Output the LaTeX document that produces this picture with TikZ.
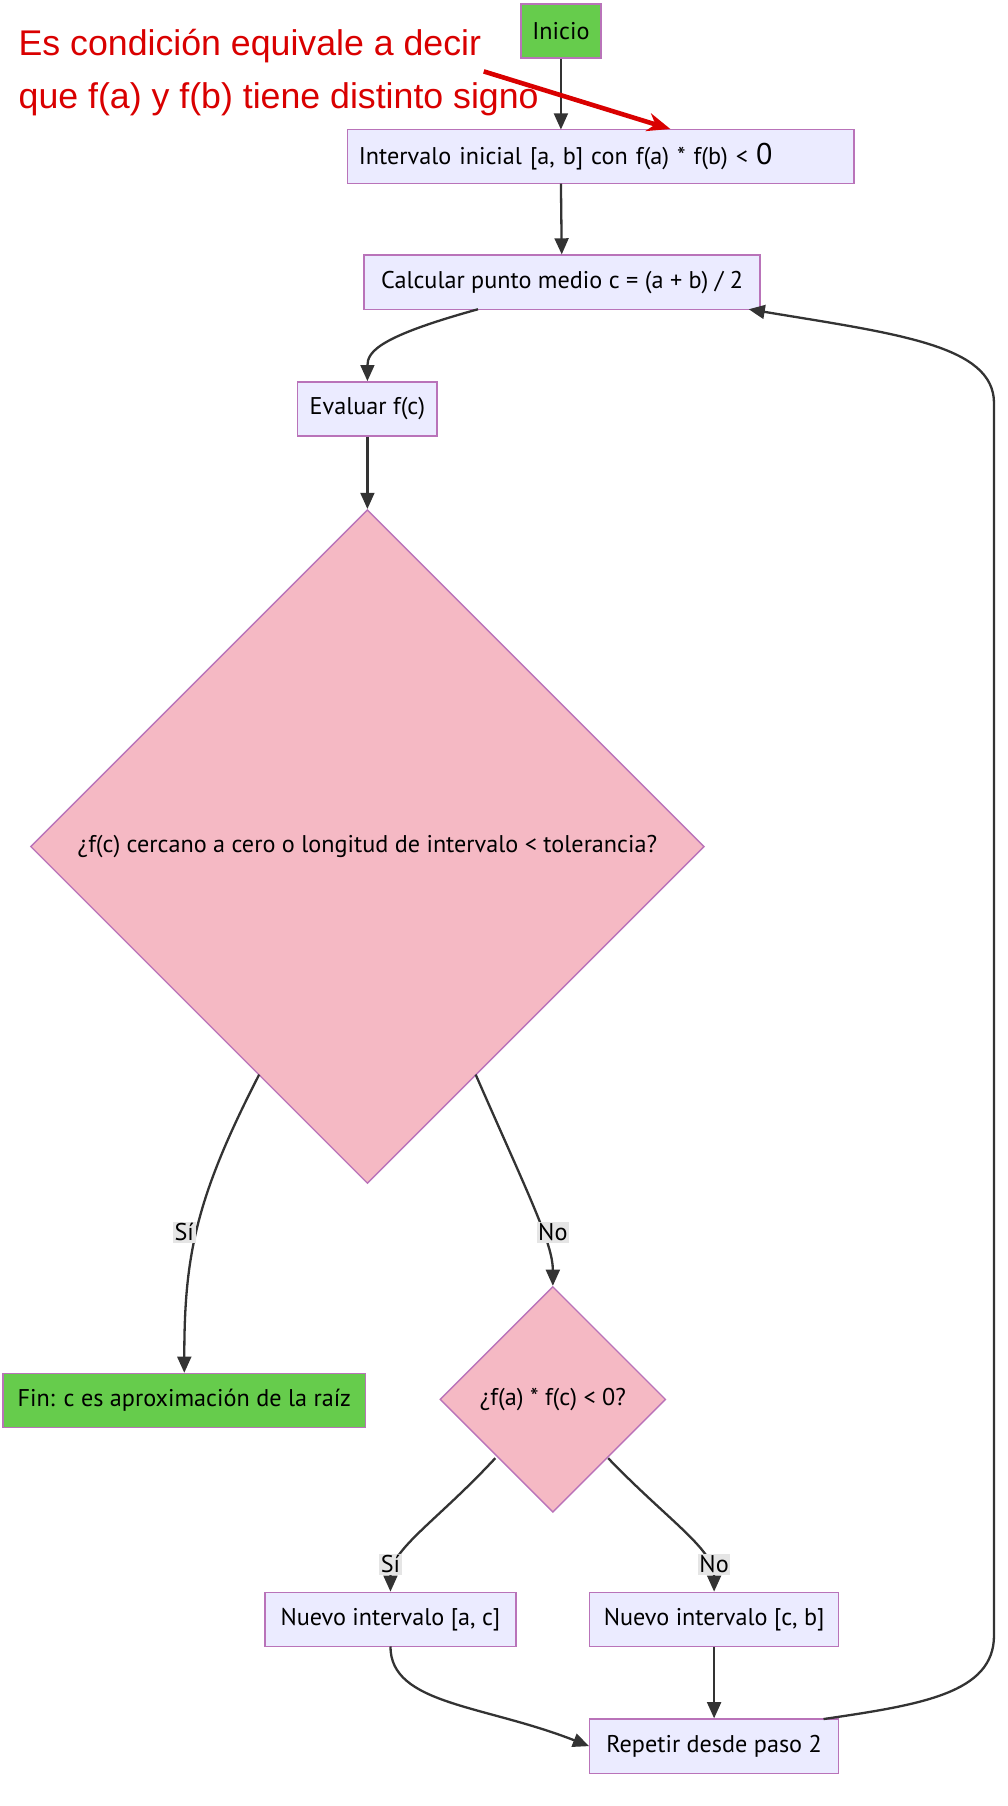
\documentclass[tikz,border=0pt]{standalone}
\usepackage{fontspec}
\setmainfont{PT Sans}
\newfontfamily\redfont{Liberation Sans}
\usetikzlibrary{shapes.geometric,arrows.meta}
\begin{document}
\begin{tikzpicture}[x=1pt,y=-1pt,
  box/.style={draw=violet!55,line width=1.2pt,fill=blue!8,minimum height=47pt,inner xsep=10pt,font=\fontsize{21}{24}\selectfont},
  dia/.style={diamond,draw=violet!55,line width=1.2pt,fill=pkc,font=\fontsize{21}{24}\selectfont,inner sep=0pt},
  con/.style={draw=black!80,line width=2pt,-{Triangle[length=14pt,width=12pt]}},
  lab/.style={fill=black!10,inner sep=1.5pt,font=\fontsize{21}{24}\selectfont}]
\useasboundingbox (0,0) rectangle (875,1568);
\definecolor{gr}{RGB}{102,204,76}
\definecolor{pkc}{RGB}{245,185,196}
\node[box,fill=gr,minimum width=69pt] (ini) at (487,27) {Inicio};
\node[box,text width=420pt,align=left,anchor=west] (int) at (301,136) {Intervalo inicial [a, b] con f(a) * f(b) < {\fontsize{26}{26}\selectfont 0}};
\node[box,minimum width=344pt] (calc) at (488,245) {Calcular punto medio c = (a + b) / 2};
\node[box,minimum width=121pt] (ev) at (319,355) {Evaluar f(c)};
\node[dia,minimum width=585pt,minimum height=585pt] (d1) at (319,735) {¿f(c) cercano a cero o longitud de intervalo < tolerancia?};
\node[box,fill=gr,minimum width=315pt] (fin) at (160,1216) {Fin: c es aproximación de la raíz};
\node[dia,minimum width=196pt,minimum height=196pt] (d2) at (480,1215) {¿f(a) * f(c) < 0?};
\node[box,minimum width=218pt] (n1) at (339,1406) {Nuevo intervalo [a, c]};
\node[box,minimum width=216pt] (n2) at (620,1406) {Nuevo intervalo [c, b]};
\node[box,minimum width=216pt] (rep) at (620,1516) {Repetir desde paso 2};
\draw[con] (ini) -- (487,112.5);
\draw[con] (487,159.5) -- (calc);
\draw[con] (415,268.5) .. controls (330,292) and (319,305) .. (ev.north);
\draw[con] (ev) -- (d1.north);
\draw[con] (225,933) .. controls (170,1040) and (160,1090) .. (fin.north);
\draw[con] (413,933) .. controls (460,1040) and (480,1080) .. (d2.north);
\draw[con] (430,1266) .. controls (380,1320) and (339,1345) .. (n1.north);
\draw[con] (528,1266) .. controls (580,1320) and (620,1345) .. (n2.north);
\draw[con] (339,1429.5) .. controls (339,1480) and (420,1480) .. (rep.west);
\draw[con] (n2) -- (rep);
\draw[con] (715,1492.5) .. controls (800,1480) and (863,1470) .. (863,1420) -- (863,350) .. controls (863,300) and (780,290) .. (650,268.5);
\node[lab] at (160,1070) {Sí};
\node[lab] at (480,1070) {No};
\node[lab] at (339,1358) {Sí};
\node[lab] at (620,1358) {No};
\node[text=red!85!black,font=\redfont\fontsize{31}{46}\selectfont,align=left,anchor=north west,inner sep=0pt] (note) at (16,25) {Es condición equivale a decir\\que f(a) y f(b) tiene distinto signo};
\coordinate (nt) at (420,62);
\draw[red!85!black,line width=4pt,-{Stealth[length=20pt,width=16pt]}] (nt) -- (582,112);
\end{tikzpicture}
\end{document}
